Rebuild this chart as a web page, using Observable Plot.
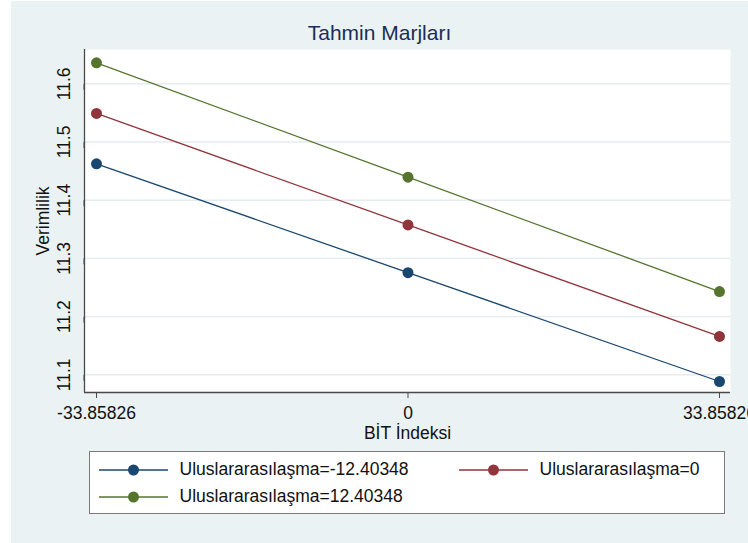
<!DOCTYPE html>
<html><head><meta charset="utf-8">
<script src="https://cdn.jsdelivr.net/npm/d3@7"></script>
<script src="https://cdn.jsdelivr.net/npm/@observablehq/plot@0.6"></script>
<style>
html,body{margin:0;padding:0;background:#fff;width:748px;height:543px;overflow:hidden;font-family:"Liberation Sans",Arial,Helvetica,sans-serif;}
#bg{position:absolute;left:11px;top:1px;width:737px;height:542px;background:#eaf2f3;}
#title{position:absolute;left:11px;top:21px;width:737px;text-align:center;font-size:21px;line-height:24px;color:#1c2d55;}
#chart{position:absolute;left:11px;top:0;}
#legend{position:absolute;left:89px;top:451px;width:634px;height:61px;background:#fff;border:1.5px solid #7a7a7a;}
.item{position:absolute;height:20px;display:flex;align-items:center;font-size:17.5px;color:#111;white-space:nowrap;}
.item svg{margin-right:12px;display:block;}
</style></head>
<body>
<div id="bg"></div>
<div id="title"></div>
<div id="chart"></div>
<div id="legend"></div>
<script>
const titleText = "Tahmin Marjları";
const xTitle = "BİT İndeksi";
const yTitle = "Verimlilik";
const xTicks = [-33.85826, 0, 33.85826];
const xTickLabels = ["-33.85826", "0", "33.85826"];
const yTicks = [11.1, 11.2, 11.3, 11.4, 11.5, 11.6];
const seriesNames = ["Uluslararasılaşma=-12.40348", "Uluslararasılaşma=0", "Uluslararasılaşma=12.40348"];
const seriesColors = ["#1a476f", "#90353b", "#55752f"];
const valuesLow = [11.4625, 11.2755, 11.0885];
const valuesMid = [11.549, 11.3575, 11.166];
const valuesHigh = [11.636, 11.4395, 11.243];
const seriesValues = [valuesLow, valuesMid, valuesHigh];

const xDomain = [-35.1627, 35.0545];
const yDomain = [11.0696, 11.6589];

const data = seriesNames.flatMap((s, i) => xTicks.map((x, j) => ({series: s, x, y: seriesValues[i][j]})));

document.getElementById("title").textContent = titleText;

const font = "Liberation Sans, Arial, Helvetica, sans-serif";
const plot = Plot.plot({
  width: 737, height: 450,
  marginLeft: 73, marginRight: 18, marginTop: 49, marginBottom: 58,
  style: {background: "transparent", overflow: "visible", fontFamily: font},
  x: {domain: xDomain},
  y: {domain: yDomain},
  color: {domain: seriesNames, range: seriesColors},
  marks: [
    Plot.frame({fill: "white", stroke: "none"}),
    Plot.gridY(yTicks, {stroke: "#e4ecef", strokeOpacity: 1, strokeWidth: 1.4}),
    Plot.ruleY([yDomain[0]], {stroke: "#4a4a4a", strokeWidth: 1.3}),
    Plot.ruleX([xDomain[0]], {stroke: "#4a4a4a", strokeWidth: 1.3}),
    Plot.axisY(yTicks, {tickFormat: d => d.toFixed(1), tickSize: 6, tickPadding: 14.5, rotate: -90, textAnchor: "middle", fontSize: 17.5, fill: "#111", stroke: "#4a4a4a", label: null}),
    Plot.axisX(xTicks, {tickFormat: d => xTickLabels[xTicks.indexOf(d)], tickSize: 6, tickPadding: 8, fontSize: 17.5, fill: "#111", stroke: "#4a4a4a", label: null}),
    Plot.text([yTitle], {text: d => d, frameAnchor: "left", rotate: -90, dx: -41, textAnchor: "middle", lineAnchor: "middle", fontSize: 17.5, fill: "#111"}),
    Plot.text([xTitle], {text: d => d, frameAnchor: "bottom", dy: 41, textAnchor: "middle", lineAnchor: "middle", fontSize: 17.5, fill: "#111"}),
    Plot.line(data, {x: "x", y: "y", z: "series", stroke: "series", strokeWidth: 1.3}),
    Plot.dot(data, {x: "x", y: "y", fill: "series", r: 5.5, stroke: "none"})
  ]
});
document.getElementById("chart").appendChild(plot);

const legend = document.getElementById("legend");
const colX = [8.5, 368.5];
const rowTop = [7.5, 34.5];
seriesNames.forEach((name, i) => {
  const item = document.createElement("div");
  item.className = "item";
  item.style.left = colX[i % 2] + "px";
  item.style.top = rowTop[Math.floor(i / 2)] + "px";
  const ns = "http://www.w3.org/2000/svg";
  const svg = document.createElementNS(ns, "svg");
  svg.setAttribute("width", 69); svg.setAttribute("height", 20);
  const ln = document.createElementNS(ns, "line");
  ln.setAttribute("x1", 0); ln.setAttribute("x2", 69); ln.setAttribute("y1", 10); ln.setAttribute("y2", 10);
  ln.setAttribute("stroke", seriesColors[i]); ln.setAttribute("stroke-width", 1.3);
  const c = document.createElementNS(ns, "circle");
  c.setAttribute("cx", 34.5); c.setAttribute("cy", 10); c.setAttribute("r", 5.5); c.setAttribute("fill", seriesColors[i]);
  svg.appendChild(ln); svg.appendChild(c);
  const span = document.createElement("span");
  span.textContent = name;
  item.appendChild(svg); item.appendChild(span);
  legend.appendChild(item);
});
</script>
</body></html>
